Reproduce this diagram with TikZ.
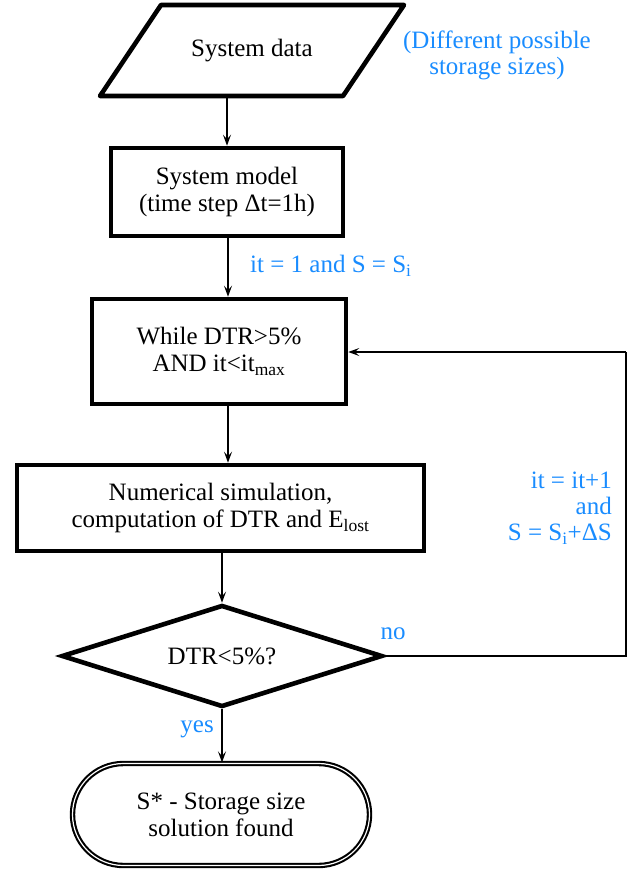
\documentclass[tikz,border=0pt]{standalone}
\usepackage{fontspec}
\setmainfont{Liberation Serif}
\usetikzlibrary{shapes.geometric,shapes.misc,arrows.meta}
\definecolor{lblue}{RGB}{25,140,255}
\tikzset{
  base/.style={draw=black, line width=4.6pt, fill=white, inner sep=0pt, align=center,
    font=\fontsize{25}{27}\selectfont},
  boxnode/.style={base, rectangle},
  conn/.style={draw=black, line width=1.3pt, -{Stealth[length=11pt,width=8pt,inset=4.5pt]}},
  plain/.style={draw=black, line width=1.3pt},
  bluetext/.style={text=lblue, inner sep=0pt, font=\fontsize{25}{26}\selectfont}
}
\begin{document}
\begin{tikzpicture}[x=1pt,y=-1pt]
\useasboundingbox (0,0) rectangle (642,872);
% parallelogram (data input)
\coordinate (pTL) at (161,5);
\coordinate (pTR) at (404,5);
\coordinate (pBR) at (343,96);
\coordinate (pBL) at (100,96);
\draw[line width=4.6pt, line join=round, fill=white] (pTL) -- (pTR) -- (pBR) -- (pBL) -- cycle;
\node[inner sep=0pt, minimum height=91pt, font=\fontsize{25}{27}\selectfont] (data) at (252,50.5) {System data};
\node[bluetext, align=center] (sizes) at (497,55) {(Different possible\\storage sizes)};
\node[boxnode, minimum width=232pt, minimum height=88pt] (model) at (227,192) {System model\\(time step Δt=1h)};
\node[bluetext, anchor=west] (init) at (250,266) {it = 1 and S = S\textsubscript{i}};
\node[boxnode, minimum width=254pt, minimum height=105pt] (while) at (219,351.5) {While DTR>5\%\\AND it<it\textsubscript{max}};
\node[boxnode, minimum width=407pt, minimum height=86pt] (numer) at (220.5,508) {Numerical simulation,\\computation of DTR and E\textsubscript{lost}};
\node[base, diamond, aspect=3, minimum width=321pt, minimum height=102pt] (dec) at (222,656) {DTR<5\%?};
\node[base, rounded rectangle, double, line width=2.1pt, double distance=1.2pt,
  minimum width=297pt, minimum height=102pt] (term) at (221,814.5) {S* - Storage size\\solution found};
\node[bluetext] (no) at (393,634) {no};
\node[bluetext, anchor=east] (yes) at (214,729) {yes};
\node[bluetext, align=right, anchor=east] (incr) at (612,508) {it = it+1\\and\\S = S\textsubscript{i}+ΔS};
\coordinate (lb) at (626,656);
\coordinate (lt) at (626,352);
% connectors
\draw[conn] (model.north |- data.south) -- (model.north);
\draw[conn] ([xshift=1pt]model.south) -- ([xshift=1pt]model.south |- while.north);
\draw[conn] ([xshift=1pt]model.south |- while.south) -- ([xshift=1pt]model.south |- numer.north);
\draw[conn] (dec.north |- numer.south) -- (dec.north);
\draw[conn] (dec.south) -- (dec.south |- term.north);
\draw[plain] (dec.east) -- (lb) -- (lt);
\draw[conn] (lt) -- (lt -| while.east);
\end{tikzpicture}
\end{document}
